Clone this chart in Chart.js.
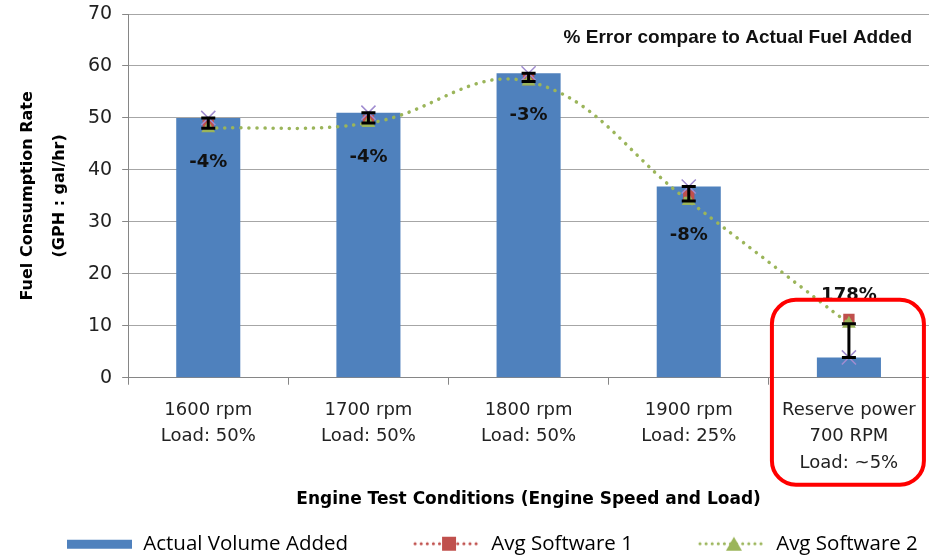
<!DOCTYPE html>
<html>
<head>
<meta charset="utf-8">
<script src="https://cdn.jsdelivr.net/npm/chart.js@4.4.1/dist/chart.umd.min.js"></script>
<style>
  html, body { margin: 0; padding: 0; background: #fff; }
  #wrap { width: 929px; height: 558px; }
</style>
</head>
<body>
<div id="wrap"><canvas id="fuelChart"></canvas></div>
<script>
// values
const conditions = [
  ['1600 rpm', 'Load: 50%'],
  ['1700 rpm', 'Load: 50%'],
  ['1800 rpm', 'Load: 50%'],
  ['1900 rpm', 'Load: 25%'],
  ['Reserve power', '700 RPM', 'Load: ~5%']
];
const actualVolume = [50, 51, 58.6, 36.8, 3.9];
const avgSoftware1 = [48.6, 49.5, 57.4, 35, 11.2];
const avgSoftware2 = [48, 49, 57, 34, 10.4];
const errorLabels = ['-4%', '-4%', '-3%', '-8%', '178%'];
const yTicks = [0, 10, 20, 30, 40, 50, 60, 70];

const BLUE = '#4f81bd';
const RED = '#c0504d';
const GREEN = '#9bb55a';
const ICON_W = 133;

// legend icons: blank on the left, mark on the right (gives the gap between items)
function legendIcon(color, marker) {
    const c = document.createElement('canvas');
    c.width = ICON_W; c.height = 18;
    const g = c.getContext('2d');
    const x0 = ICON_W - 68;
    if (marker === 'bar') {
        g.fillStyle = color;
        g.fillRect(x0 + 2, 5, 65, 9);
        return c;
    }
    g.strokeStyle = color;
    g.lineWidth = 3;
    g.lineCap = 'round';
    g.setLineDash([0.1, 6]);
    g.beginPath(); g.moveTo(x0 + 2, 9); g.lineTo(ICON_W - 2, 9); g.stroke();
    g.fillStyle = color;
    const cx = x0 + 36;
    if (marker === 'rect') {
        g.fillRect(cx - 7, 2, 14, 14);
    } else {
        g.beginPath(); g.moveTo(cx, 2); g.lineTo(cx + 8, 16); g.lineTo(cx - 8, 16); g.closePath(); g.fill();
    }
    return c;
}

const annotate = {
    id: 'annotate',
    afterDatasetsDraw(chart) {
        const { ctx, chartArea } = chart;
        const x = chart.scales.x, y = chart.scales.y;
        ctx.save();

        // error bars between actual volume and software average
        ctx.strokeStyle = '#000';
        ctx.lineWidth = 3;
        actualVolume.forEach((v, i) => {
            const px = x.getPixelForValue(i);
            const y1 = y.getPixelForValue(v);
            const y2 = y.getPixelForValue(avgSoftware2[i]);
            ctx.beginPath();
            ctx.moveTo(px, y1); ctx.lineTo(px, y2);
            ctx.moveTo(px - 7, y1); ctx.lineTo(px + 7, y1);
            ctx.moveTo(px - 7, y2); ctx.lineTo(px + 7, y2);
            ctx.stroke();
        });

        // % error labels
        ctx.fillStyle = '#111';
        ctx.font = 'bold 18px "DejaVu Sans"';
        ctx.textAlign = 'center';
        ctx.textBaseline = 'middle';
        errorLabels.forEach((t, i) => {
            const px = x.getPixelForValue(i);
            const barH = y.getPixelForValue(0) - y.getPixelForValue(actualVolume[i]);
            const py = barH < 60
                ? y.getPixelForValue(avgSoftware1[i]) - 24
                : y.getPixelForValue(avgSoftware2[i]) + 34;
            ctx.fillText(t, px, py);
        });

        // note in the top right corner
        ctx.font = 'bold 19px "Liberation Sans"';
        ctx.textAlign = 'right';
        ctx.fillText('% Error compare to Actual Fuel Added', chartArea.right - 17, chartArea.top + 24);

        // red highlight box round the last condition
        const cx = x.getPixelForValue(conditions.length - 1);
        const left = cx - 77, right = cx + 75;
        const top = y.getPixelForValue(15);
        const bottom = y.getPixelForValue(0) + 107;
        ctx.strokeStyle = '#ff0000';
        ctx.lineWidth = 4;
        ctx.beginPath();
        ctx.roundRect(left, top, right - left, bottom - top, 24);
        ctx.stroke();
        ctx.restore();
    }
};

const ctx = document.getElementById('fuelChart').getContext('2d');
new Chart(ctx, {
    type: 'bar',
    data: {
        labels: conditions,
        datasets: [
            {
                type: 'line',
                label: 'Actual',
                data: actualVolume,
                showLine: false,
                pointStyle: 'crossRot',
                pointRadius: 10,
                borderColor: '#a08cd0',
                borderWidth: 1.5,
                order: 1,
            },
            {
                type: 'line',
                label: 'Avg Software 2',
                data: avgSoftware2,
                borderColor: GREEN,
                backgroundColor: GREEN,
                borderWidth: 3.5,
                borderDash: [0.1, 8],
                borderCapStyle: 'round',
                tension: 0.4,
                pointStyle: 'triangle',
                pointRadius: 8,
                pointBorderWidth: 0,
                order: 2,
            },
            {
                type: 'line',
                label: 'Avg Software 1',
                data: avgSoftware1,
                showLine: false,
                backgroundColor: RED,
                borderColor: RED,
                pointStyle: 'rect',
                pointRadius: 8,
                pointBorderWidth: 0,
                order: 3,
            },
            {
                label: 'Actual Volume Added',
                data: actualVolume,
                backgroundColor: BLUE,
                barPercentage: 0.4,
                categoryPercentage: 1,
                order: 10,
            },
        ],
    },
    options: {
        responsive: true,
        maintainAspectRatio: false,
        animation: false,
        layout: { autoPadding: false, padding: { top: 14, left: 0, right: 0, bottom: -6 } },
        plugins: {
            tooltip: { enabled: false },
            legend: {
                position: 'bottom',
                align: 'start',
                labels: {
                    usePointStyle: true,
                    pointStyleWidth: ICON_W,
                    boxHeight: 18,
                    padding: 0,
                    color: '#111',
                    font: { family: 'Open Sans', size: 20.5 },
                    generateLabels: () => [
                        { text: 'Actual Volume Added', pointStyle: legendIcon(BLUE, 'bar'), fillStyle: BLUE, lineWidth: 0, hidden: false, datasetIndex: 3 },
                        { text: 'Avg Software 1', pointStyle: legendIcon(RED, 'rect'), fillStyle: RED, lineWidth: 0, hidden: false, datasetIndex: 2 },
                        { text: 'Avg Software 2', pointStyle: legendIcon(GREEN, 'tri'), fillStyle: GREEN, lineWidth: 0, hidden: false, datasetIndex: 1 },
                    ],
                },
            },
        },
        scales: {
            x: {
                afterFit: (scale) => { scale.paddingLeft = 0; scale.paddingRight = 0; },
                grid: { drawOnChartArea: false, drawTicks: true, tickLength: 7, color: '#868686', offset: true },
                border: { color: '#868686' },
                ticks: {
                    color: '#222',
                    font: { family: 'DejaVu Sans', size: 18, lineHeight: 1.47 },
                    padding: 12,
                    maxRotation: 0,
                    autoSkip: false,
                },
                title: {
                    display: true,
                    text: 'Engine Test Conditions (Engine Speed and Load)',
                    color: '#000',
                    font: { family: 'DejaVu Sans', size: 17, weight: 'bold' },
                    padding: { top: 1, bottom: 24 },
                },
            },
            y: {
                min: 0,
                max: 70,
                afterBuildTicks: (scale) => { scale.ticks = yTicks.map(v => ({ value: v })); },
                afterFit: (scale) => { scale.paddingTop = 0; scale.paddingBottom = 0; },
                grid: { color: '#a6a6a6', tickLength: 6, drawTicks: true, tickColor: '#868686' },
                border: { color: '#868686' },
                ticks: {
                    color: '#222',
                    font: { family: 'DejaVu Sans', size: 19 },
                    padding: 10,
                },
                title: {
                    display: true,
                    text: ['Fuel Consumption Rate', '(GPH : gal/hr)'],
                    color: '#000',
                    font: { family: 'DejaVu Sans', size: 16, weight: 'bold', lineHeight: 2.0 },
                    padding: { top: 12, bottom: 2 },
                },
            },
        },
    },
    plugins: [annotate],
});
</script>
</body>
</html>
